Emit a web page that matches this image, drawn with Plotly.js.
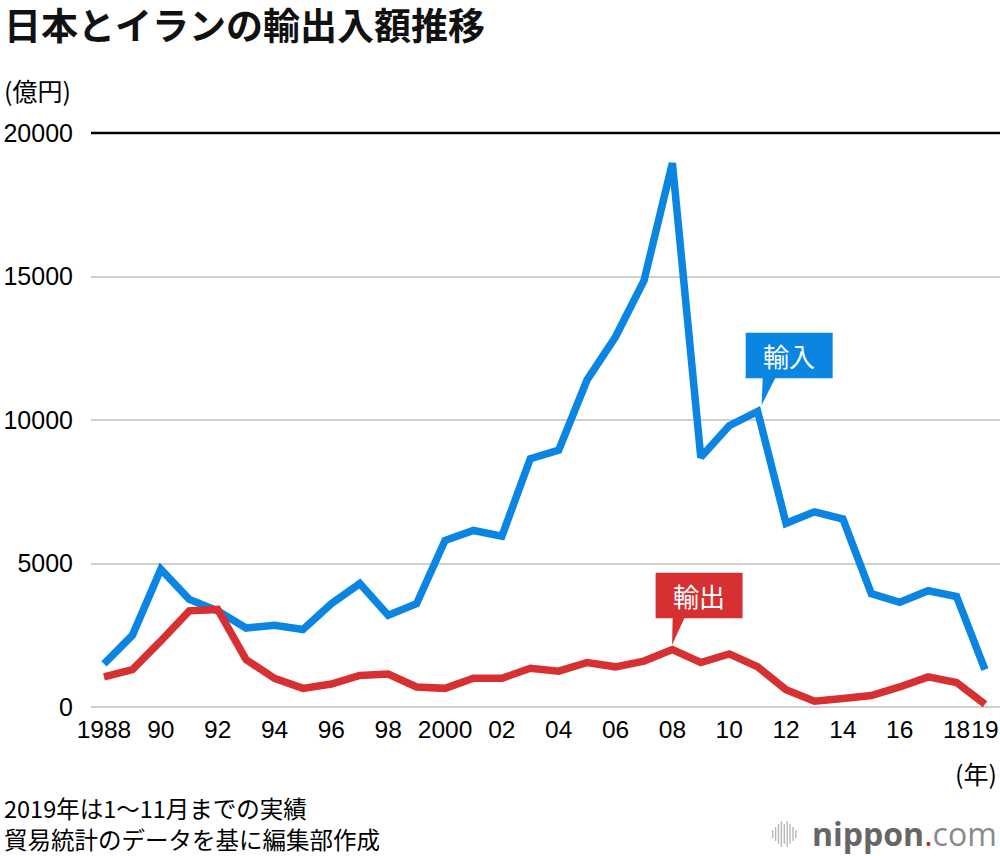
<!DOCTYPE html>
<html><head><meta charset="utf-8">
<script src="https://cdn.plot.ly/plotly-3.0.1.min.js"></script>
<style>html,body{margin:0;padding:0;background:#fff}</style>
</head><body><div id="chart" style="width:1000px;height:856px"></div>
<script>
const years = [1988,1989,1990,1991,1992,1993,1994,1995,1996,1997,1998,1999,2000,2001,2002,2003,2004,2005,2006,2007,2008,2009,2010,2011,2012,2013,2014,2015,2016,2017,2018,2019];
const imports = [1500,2500,4800,3750,3350,2750,2850,2700,3600,4300,3200,3600,5800,6150,5950,8650,8950,11400,12900,14850,18950,8700,9800,10300,6400,6800,6550,3950,3650,4050,3850,1300];
const exportsJP = [1050,1300,2300,3350,3400,1650,1000,650,800,1100,1150,700,650,1000,1000,1350,1250,1550,1400,1600,2000,1550,1850,1400,600,200,300,400,700,1050,850,100];
const xTickVals = [1988,1990,1992,1994,1996,1998,2000,2002,2004,2006,2008,2010,2012,2014,2016,2018,2019];
const xTickText = ['1988','90','92','94','96','98','2000','02','04','06','08','10','12','14','16','18','19'];
const yTickVals = [0,5000,10000,15000,20000];
const yTickText = ['0','5000','10000','15000','20000'];
const seriesNames = ['輸入','輸出'];
const titleText = '日本とイランの輸出入額推移';
const unitText = '(億円)';
const yearUnit = '(年)';
const note1 = '2019年は1〜11月までの実績';
const note2 = '貿易統計のデータを基に編集部作成';

const BLUE = '#0b85e2', RED = '#d63033';
const JP = '"Noto Sans CJK JP", "Noto Sans", sans-serif';
const NUM = '"Liberation Sans", Arial, sans-serif';

const L = 91, R = 1000, T = 120, B = 712;
const W = R - L, H = B - T;
const px = x => (x - L) / W;
const py = y => (B - y) / H;

const traces = [
  {x: years, y: imports, type: 'scatter', mode: 'lines', name: seriesNames[0],
   line: {color: BLUE, width: 7.5}, hoverinfo: 'skip'},
  {x: years, y: exportsJP, type: 'scatter', mode: 'lines', name: seriesNames[1],
   line: {color: RED, width: 7.5}, hoverinfo: 'skip'}
];

// logo bars
const barHeights = [8, 14, 20, 26, 20, 26, 20, 14, 8];
const logoShapes = barHeights.map((h, i) => ({
  type: 'rect', xref: 'paper', yref: 'paper', layer: 'above',
  x0: px(772 + i * 2.9), x1: px(772 + i * 2.9 + 1.4),
  y0: py(834 + h / 2), y1: py(834 - h / 2),
  fillcolor: '#b8b8b8', line: {width: 0}
}));

const layout = {
  width: 1000, height: 856, autosize: false,
  margin: {l: L, r: 1000 - R, t: T, b: 856 - B, pad: 0},
  paper_bgcolor: '#fff', plot_bgcolor: '#fff',
  showlegend: false,
  title: {text: '<b>' + titleText + '</b>', xref: 'container', yref: 'container',
          x: 0.004, xanchor: 'left', y: 1 - 27 / 856, yanchor: 'middle',
          font: {family: JP, size: 37, color: '#111'}},
  xaxis: {range: [1987.543, 2019.528], tickmode: 'array', tickvals: xTickVals, ticktext: xTickText,
          tickangle: 0, showgrid: false, zeroline: false, showline: false, ticks: '',
          tickfont: {family: NUM, size: 24.5, color: '#000'}, fixedrange: true},
  yaxis: {range: [-174, 20453], tickmode: 'array', tickvals: yTickVals, ticktext: yTickText,
          showgrid: true, gridcolor: '#cfcfcf', gridwidth: 2, zeroline: false, showline: false,
          ticks: 'outside', ticklen: 12, tickcolor: 'rgba(0,0,0,0)',
          tickfont: {family: NUM, size: 25, color: '#000'}, fixedrange: true},
  shapes: [
    {type: 'line', xref: 'paper', yref: 'y', x0: 0, x1: 1, y0: 20000, y1: 20000,
     line: {color: '#000', width: 2.5}, layer: 'above'},
    {type: 'line', xref: 'paper', yref: 'y', x0: 0, x1: 1, y0: 0, y1: 0,
     line: {color: '#000', width: 2}, layer: 'between'},
    // import callout
    {type: 'rect', xref: 'x', yref: 'y', x0: 2010.58, x1: 2013.64, y0: 11453, y1: 13042,
     fillcolor: BLUE, line: {width: 0}, layer: 'above'},
    {type: 'path', xref: 'x', yref: 'y', path: 'M 2011.18 11500 L 2011.64 11500 L 2011.14 10523 Z',
     fillcolor: BLUE, line: {width: 0}, layer: 'above'},
    // export callout
    {type: 'rect', xref: 'x', yref: 'y', x0: 2007.41, x1: 2010.47, y0: 3091, y1: 4679,
     fillcolor: RED, line: {width: 0}, layer: 'above'},
    {type: 'path', xref: 'x', yref: 'y', path: 'M 2008.01 3140 L 2008.44 3140 L 2007.99 2160 Z',
     fillcolor: RED, line: {width: 0}, layer: 'above'}
  ].concat(logoShapes),
  annotations: [
    {text: seriesNames[0], xref: 'x', yref: 'y', x: 2012.11, y: 12247, showarrow: false,
     xanchor: 'center', yanchor: 'middle', font: {family: JP, size: 26, color: '#fff'}},
    {text: seriesNames[1], xref: 'x', yref: 'y', x: 2008.94, y: 3885, showarrow: false,
     xanchor: 'center', yanchor: 'middle', font: {family: JP, size: 26, color: '#fff'}},
    {text: unitText, xref: 'paper', yref: 'paper', x: px(2), y: py(90), showarrow: false,
     xanchor: 'left', yanchor: 'middle', font: {family: JP, size: 25, color: '#000'}},
    {text: yearUnit, xref: 'paper', yref: 'paper', x: px(999), y: py(773), showarrow: false,
     xanchor: 'right', yanchor: 'middle', font: {family: JP, size: 25, color: '#000'}},
    {text: note1 + '<br>' + note2, xref: 'paper', yref: 'paper', x: px(2), y: py(823), showarrow: false,
     xanchor: 'left', yanchor: 'middle', align: 'left', font: {family: JP, size: 23.5, color: '#000'}},
    {text: '<b>nippon</b><span style="color:#e8141c">.</span><span style="color:#8a8a8a">com</span>',
     xref: 'paper', yref: 'paper', x: px(999), y: py(833), showarrow: false,
     xanchor: 'right', yanchor: 'middle', font: {family: '"Open Sans", Roboto, sans-serif', size: 32, color: '#666'}}
  ]
};

Plotly.newPlot('chart', traces, layout, {displayModeBar: false, staticPlot: true});
</script>
</body></html>
